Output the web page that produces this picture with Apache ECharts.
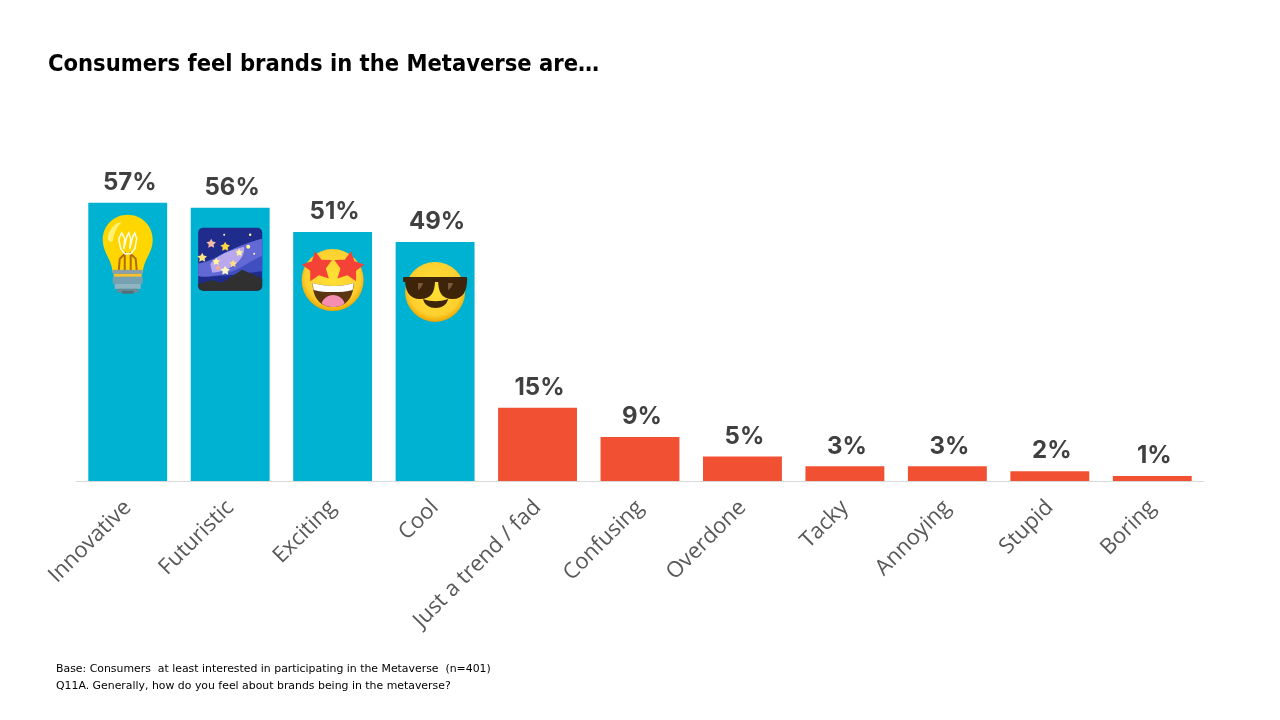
<!DOCTYPE html>
<html>
<head>
<meta charset="utf-8">
<title>Consumers feel brands in the Metaverse</title>
<script src="https://cdn.jsdelivr.net/npm/echarts@6/dist/echarts.min.js"></script>
<style>
html,body{margin:0;padding:0;background:#fff;}
#main{width:1280px;height:720px;}
</style>
</head>
<body>
<div id="main"></div>
<script>
var categories=['Innovative','Futuristic','Exciting','Cool','Just a trend / fad','Confusing','Overdone','Tacky','Annoying','Stupid','Boring'];
var values=[57,56,51,49,15,9,5,3,3,2,1];
var positiveCount=4;
var iconNames=['bulb','galaxy','stars','shades'];
var titleText='Consumers feel brands in the Metaverse are…';
var footLines=['Base: Consumers  at least interested in participating in the Metaverse  (n=401)','Q11A. Generally, how do you feel about brands being in the metaverse?'];

// helpers for the small pictures inside the bars
function path(d,x,y,w,h,fill){
	return {type:'path',shape:{pathData:d,x:x,y:y,width:w,height:h,layout:'cover'},style:{fill:fill}};
}
function rect(x,y,w,h,fill,r){
	return {type:'rect',shape:{x:x,y:y,width:w,height:h,r:r||0},style:{fill:fill}};
}
function circle(x,y,r,fill){
	return {type:'circle',shape:{cx:x,cy:y,r:r},style:{fill:fill}};
}
function line(points,color,width){
	return {type:'polyline',shape:{points:points},style:{fill:'none',stroke:color,lineWidth:width}};
}
function star(x,y,r,fill,turn){
	var pts=[];
	for(var i=0;i<10;i++){
		var rr=i%2==0?r:r*0.52;
		var a=-Math.PI/2+i*Math.PI/5+(turn||0);
		pts.push([x+rr*Math.cos(a),y+rr*Math.sin(a)]);
	}
	return {type:'polygon',shape:{points:pts},style:{fill:fill}};
}
function faceFill(){
	return new echarts.graphic.RadialGradient(0.5,0.45,0.55,[
		{offset:0,color:'#fee133'},
		{offset:0.8,color:'#fdd030'},
		{offset:1,color:'#eda600'}
	]);
}
// every icon is relative to the middle of the bar top
function iconParts(name){
	if(name=='bulb'){
		return [
			path('M0 25C0 11 11 0 25 0C39 0 50 11 50 25C50 38 41 44 40 58H10C9 44 0 38 0 25Z',-25,12,50,58,'#ffd600'),
			path('M0 14C2 6 8 1 14 0C8 6 6 12 5 18C2 20 0 18 0 14Z',-20,19,14,20,'#fff176'),
			line([[-9,68],[-8,56],[-3,51],[-3,68]],'#b26a00',2),
			line([[9,68],[8,56],[3,51],[3,68]],'#b26a00',2),
			line([[-7,46],[-9,36],[-6,30],[-3,36],[-4,46],[-1,34],[1,30],[3,36],[2,46],[5,34],[7,30],[9,36],[7,46],[3,51],[-3,51],[-7,46]],'#fffde7',1.5),
			rect(-15,67,30,4,'#8d9ea6'),
			rect(-14,71,28,3,'#fbc02d'),
			rect(-15,74,30,7,'#78a0ae'),
			rect(-13,81,26,5,'#90b4c0'),
			rect(-11,86,22,4,'#6c8a96',2),
			rect(-6,88,12,3,'#546e7a',1)
		];
	}
	if(name=='galaxy'){
		return [
			rect(-32,20,64,63,'#1f2c8c',5),
			path('M0 34C12 32 20 24 30 18C38 14 46 8 64 2V44C50 46 40 48 24 50C14 51 6 52 0 50Z',-32,31,64,38,'#3f4fc0'),
			path('M0 34C12 32 20 24 30 18C38 14 46 8 64 2V24C50 32 40 44 24 48C14 50 6 52 0 50Z',-32,31,64,38,'#6268d4'),
			path('M0 20C6 10 18 4 32 0C34 14 20 28 2 30Z',-20,39,34,26,'#b9a9ec'),
			path('M0 16L14 12L24 15L44 0L64 10V19C64 22 62 24 59 24H5C2 24 0 22 0 19Z',-32,62,64,21,'#303030'),
			star(-19,36,5,'#f3b9a5'),
			star(-5,39,5,'#ffd740'),
			star(-28,50,5,'#ffe57f'),
			star(-14,54,4,'#fff59d'),
			star(3,56,4,'#ffe082'),
			star(-5,63,5,'#fff9c4'),
			star(9,45,4,'#fff59d'),
			circle(-12,60,2,'#ffab91'),
			circle(18,39,2,'#fff59d'),
			circle(20,27,1.2,'#fff59d'),
			circle(-6,27,1,'#fff59d'),
			circle(24,46,1,'#fff59d')
		];
	}
	if(name=='stars'){
		return [
			{type:'circle',shape:{cx:0,cy:48,r:31},style:{fill:faceFill()}},
			path('M0 0C14 4 30 4 42 0C42 16 33 24 21 24C9 24 0 16 0 0Z',-20,51,41,24,'#5b3512'),
			path('M0 0C14 4 30 4 42 0L41 7C30 10 12 10 1 7Z',-20,51,41,9,'#ffffff'),
			path('M0 10C4 2 18 2 22 10C18 14 4 14 0 10Z',-11,63,23,12,'#f48fb1'),
			star(-15,35,16,'#f44336',-0.15),
			star(16,35,16,'#f44336',0.15)
		];
	}
	return [
		{type:'circle',shape:{cx:0,cy:50,r:30},style:{fill:faceFill()}},
		rect(-32,35,64,5,'#3e2408',1),
		path('M0 0H30C30 14 26 20 15 20C4 20 0 12 0 0Z',-30,37,30,20,'#3e2408'),
		path('M0 0H30C30 12 26 20 15 20C4 20 0 14 0 0Z',3,37,29,20,'#3e2408'),
		path('M0 0H4C3 4 2 6 0 8Z',-17,41,5,7,'#7b5a3a'),
		path('M0 0H4C3 4 2 6 0 8Z',13,41,5,7,'#7b5a3a'),
		path('M0 0C8 3 16 3 24 0C22 12 2 12 0 0Z',-12,57,25,9,'#3e2408')
	];
}
function renderIcon(params,api){
	var point=api.coord([api.value(0),api.value(1)]);
	return {type:'group',x:point[0],y:point[1],children:iconParts(iconNames[params.dataIndex])};
}

var iconData=[];
for(var i=0;i<iconNames.length;i++){
	iconData.push([i,values[i]]);
}
var footGraphics=[];
for(var j=0;j<footLines.length;j++){
	footGraphics.push({type:'text',left:56,top:664+j*17,style:{text:footLines[j],fill:'#000',font:'10.9px "DejaVu Sans"'}});
}

var chart=echarts.init(document.getElementById('main'),null,{renderer:'canvas'});
chart.setOption({
	backgroundColor:'#fff',
	animation:false,
	title:{
		text:titleText,
		left:48,
		top:53,
		padding:0,
		textStyle:{fontFamily:'DejaVu Sans Condensed',fontSize:23.5,fontWeight:'bold',color:'#000'}
	},
	graphic:footGraphics,
	grid:{left:76.5,width:1127,top:188.2,height:292.8},
	xAxis:{
		type:'category',
		data:categories,
		axisTick:{show:false},
		axisLine:{lineStyle:{color:'#d9d9d9',width:1}},
		axisLabel:{
			rotate:45,
			interval:0,
			margin:23,
			color:'#595959',
			fontFamily:'Open Sans',
			fontSize:22
		}
	},
	yAxis:{type:'value',min:0,max:60,show:false,splitLine:{show:false}},
	series:[{
		type:'bar',
		data:values,
		barWidth:'77%',
		itemStyle:{
			color:function(p){
				return p.dataIndex<positiveCount?'#00b2d1':'#f15032';
			}
		},
		label:{
			show:true,
			position:'top',
			distance:8,
			offset:[2,0],
			formatter:'{c}%',
			color:'#404040',
			fontFamily:'Inter',
			fontWeight:'bold',
			fontSize:24
		}
	},{
		type:'custom',
		data:iconData,
		encode:{x:0,y:1},
		silent:true,
		z:5,
		renderItem:renderIcon
	}]
});
</script>
</body>
</html>
